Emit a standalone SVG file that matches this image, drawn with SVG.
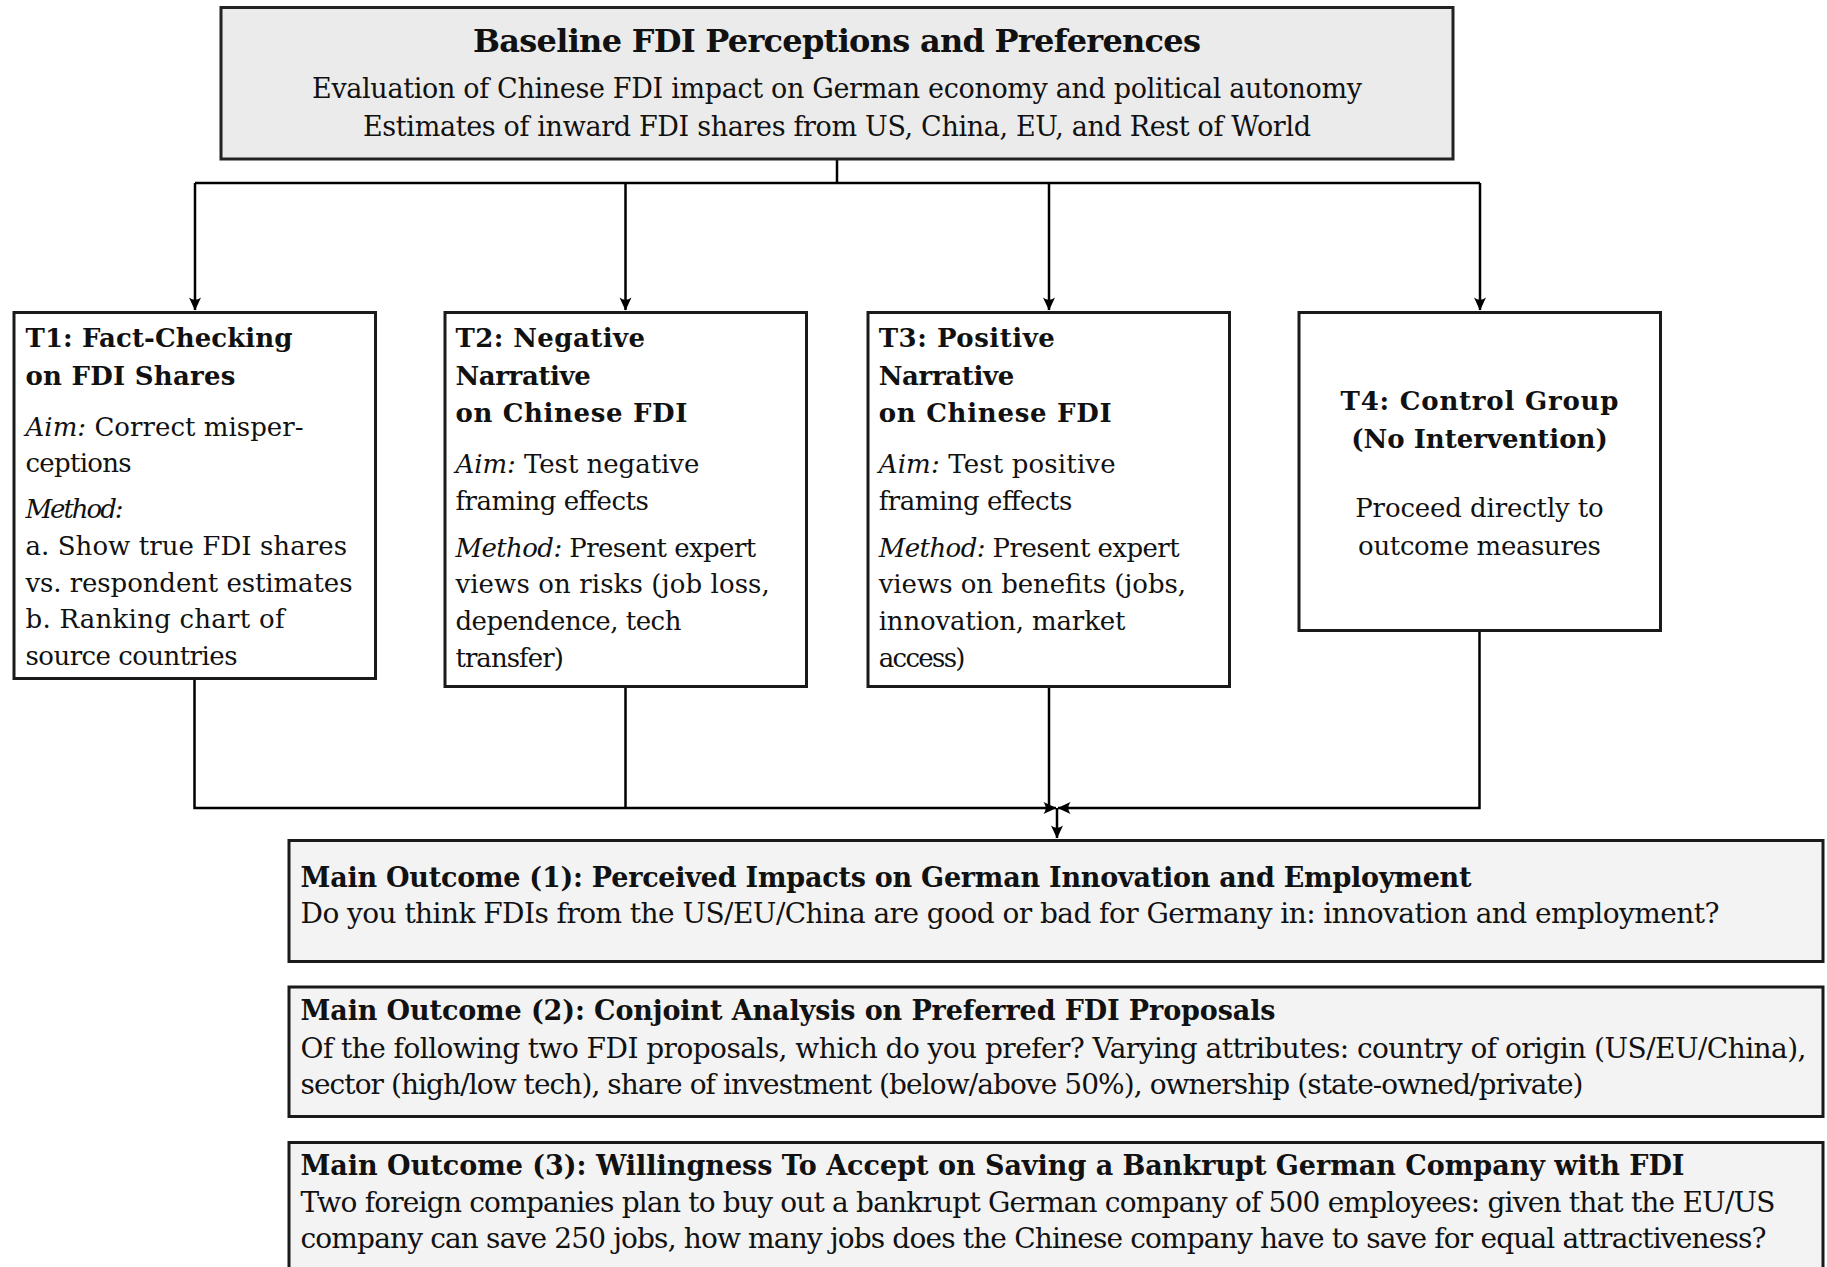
<svg xmlns="http://www.w3.org/2000/svg" width="1827" height="1267" viewBox="0 0 1827 1267">
<style>
.t{font-family:"DejaVu Serif","Liberation Serif",serif;fill:#111;}
.b{font-weight:bold;}
.i{font-style:italic;}
.s26{font-size:26px;}
.s27{font-size:27px;}
.s28{font-size:28px;}
.s32{font-size:32px;}
.box{fill:#ffffff;stroke:#1a1a1a;stroke-width:3;}
.gbox{fill:#ebebeb;stroke:#222;stroke-width:3;}
.obox{fill:#f3f3f3;stroke:#1a1a1a;stroke-width:3;}
.c{fill:none;stroke:#000;stroke-width:2.5;}
.mid{text-anchor:middle;}
</style>
<defs>
<marker id="ah" markerUnits="userSpaceOnUse" viewBox="-14 -7 15 14" refX="0" refY="0" markerWidth="15" markerHeight="14" orient="auto">
<path d="M0.5,0 L-12.5,-6 Q-8,0 -12.5,6 Z" fill="#000"/>
</marker>
</defs>
<rect width="1827" height="1267" fill="#ffffff"/>

<g id="connectors">
<path class="c" d="M837,159 V183"/>
<path class="c" d="M195,183 H1480"/>
<path class="c" d="M195,183 V310" marker-end="url(#ah)"/>
<path class="c" d="M625.5,183 V310" marker-end="url(#ah)"/>
<path class="c" d="M1049,183 V310" marker-end="url(#ah)"/>
<path class="c" d="M1480,183 V310" marker-end="url(#ah)"/>
<path class="c" d="M194.5,678.5 V808 H1056" marker-end="url(#ah)"/>
<path class="c" d="M625.5,686.5 V808"/>
<path class="c" d="M1049,686.5 V808"/>
<path class="c" d="M1479.5,630.5 V808 H1058" marker-end="url(#ah)"/>
<path class="c" d="M1057,808 V838" marker-end="url(#ah)"/>
</g>

<g id="baseline">
<rect class="gbox" x="221" y="7.5" width="1232" height="151.5"/>
<text class="t b s32 mid" x="837" y="52" textLength="728">Baseline FDI Perceptions and Preferences</text>
<text class="t s27 mid" x="837" y="98" textLength="1050">Evaluation of Chinese FDI impact on German economy and political autonomy</text>
<text class="t s27 mid" x="837" y="136" textLength="948">Estimates of inward FDI shares from US, China, EU, and Rest of World</text>
</g>

<g id="t1">
<rect class="box" x="14" y="312.5" width="361.5" height="366"/>
<text class="t b s26" x="25.5" y="346.7" textLength="267">T1: Fact-Checking</text>
<text class="t b s26" x="25.5" y="384.5" textLength="210">on FDI Shares</text>
<text class="t s26" x="25.5" y="436" textLength="278"><tspan class="i">Aim:</tspan> Correct misper-</text>
<text class="t s26" x="25.5" y="471.7" textLength="106">ceptions</text>
<text class="t s26 i" x="25.5" y="518.3" textLength="98">Method:</text>
<text class="t s26" x="25.5" y="555" textLength="321.5">a. Show true FDI shares</text>
<text class="t s26" x="25.5" y="591.7" textLength="327">vs. respondent estimates</text>
<text class="t s26" x="25.5" y="628.3" textLength="259">b. Ranking chart of</text>
<text class="t s26" x="25.5" y="665" textLength="212">source countries</text>
</g>

<g id="t2">
<rect class="box" x="445" y="312.5" width="361.5" height="374"/>
<text class="t b s26" x="455.4" y="346.7" textLength="189.6">T2: Negative</text>
<text class="t b s26" x="455.4" y="384.5" textLength="135.5">Narrative</text>
<text class="t b s26" x="455.4" y="421.7" textLength="232">on Chinese FDI</text>
<text class="t s26" x="455.4" y="473.3" textLength="244"><tspan class="i">Aim:</tspan> Test negative</text>
<text class="t s26" x="455.4" y="510" textLength="193.5">framing effects</text>
<text class="t s26" x="455.4" y="556.7" textLength="300.8"><tspan class="i">Method:</tspan> Present expert</text>
<text class="t s26" x="455.4" y="593.3" textLength="314.4">views on risks (job loss,</text>
<text class="t s26" x="455.4" y="630" textLength="226">dependence, tech</text>
<text class="t s26" x="455.4" y="666.7" textLength="108.4">transfer)</text>
</g>

<g id="t3">
<rect class="box" x="868" y="312.5" width="361.5" height="374"/>
<text class="t b s26" x="878.7" y="346.7" textLength="176.2">T3: Positive</text>
<text class="t b s26" x="878.7" y="384.5" textLength="135.6">Narrative</text>
<text class="t b s26" x="878.7" y="421.7" textLength="233">on Chinese FDI</text>
<text class="t s26" x="878.7" y="473.3" textLength="236.9"><tspan class="i">Aim:</tspan> Test positive</text>
<text class="t s26" x="878.7" y="510" textLength="193.6">framing effects</text>
<text class="t s26" x="878.7" y="556.7" textLength="300.9"><tspan class="i">Method:</tspan> Present expert</text>
<text class="t s26" x="878.7" y="593.3" textLength="307.4">views on benefits (jobs,</text>
<text class="t s26" x="878.7" y="630" textLength="246.7">innovation, market</text>
<text class="t s26" x="878.7" y="666.7" textLength="86.8">access)</text>
</g>

<g id="t4">
<rect class="box" x="1299" y="312.5" width="361.5" height="318"/>
<text class="t b s26 mid" x="1479.5" y="410" textLength="278">T4: Control Group</text>
<text class="t b s26 mid" x="1479.5" y="448.3" textLength="256.4">(No Intervention)</text>
<text class="t s26 mid" x="1479.5" y="516.7" textLength="248.5">Proceed directly to</text>
<text class="t s26 mid" x="1479.5" y="555" textLength="242.8">outcome measures</text>
</g>

<g id="outcome1">
<rect class="obox" x="289" y="840.5" width="1534" height="121"/>
<text class="t b s27" x="300.5" y="887" textLength="1171">Main Outcome (1): Perceived Impacts on German Innovation and Employment</text>
<text class="t s28" x="300.5" y="923" textLength="1419">Do you think FDIs from the US/EU/China are good or bad for Germany in: innovation and employment?</text>
</g>

<g id="outcome2">
<rect class="obox" x="289" y="987" width="1534" height="129.5"/>
<text class="t b s27" x="300.5" y="1020" textLength="975">Main Outcome (2): Conjoint Analysis on Preferred FDI Proposals</text>
<text class="t s28" x="300.5" y="1058" textLength="1506">Of the following two FDI proposals, which do you prefer? Varying attributes: country of origin (US/EU/China),</text>
<text class="t s28" x="300.5" y="1094" textLength="1283">sector (high/low tech), share of investment (below/above 50%), ownership (state-owned/private)</text>
</g>

<g id="outcome3">
<rect class="obox" x="289" y="1142.5" width="1534" height="140"/>
<text class="t b s27" x="300.5" y="1175" textLength="1384">Main Outcome (3): Willingness To Accept on Saving a Bankrupt German Company with FDI</text>
<text class="t s28" x="300.5" y="1212" textLength="1475">Two foreign companies plan to buy out a bankrupt German company of 500 employees: given that the EU/US</text>
<text class="t s28" x="300.5" y="1248" textLength="1466">company can save 250 jobs, how many jobs does the Chinese company have to save for equal attractiveness?</text>
</g>
</svg>
